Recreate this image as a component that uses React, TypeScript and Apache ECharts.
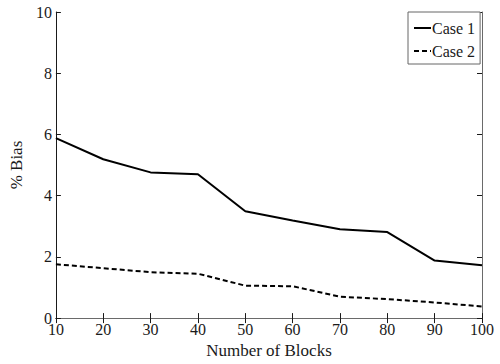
import React, { useEffect, useRef } from "react";
import * as echarts from "echarts";

// Number of blocks on the x axis
const blocks = [10, 20, 30, 40, 50, 60, 70, 80, 90, 100];
// % bias for each case
const case1 = [5.88, 5.19, 4.76, 4.70, 3.49, 3.19, 2.90, 2.81, 1.88, 1.73];
const case2 = [1.76, 1.63, 1.50, 1.45, 1.06, 1.04, 0.70, 0.62, 0.51, 0.38];

const FONT = "Liberation Serif";
const INK = "#1a1a1a";

export default function App() {
  const ref = useRef<HTMLDivElement>(null);

  useEffect(() => {
    if (!ref.current) return;
    const chart = echarts.init(ref.current, null, { renderer: "svg" });

    const frameAxis = (main: boolean) => ({
      axisLine: { show: true, lineStyle: { color: main ? INK : "#6a6a6a", width: 1 } },
      axisTick: { show: true, inside: true, length: 5, lineStyle: { color: INK } },
      splitLine: { show: false },
    });

    chart.setOption({
      animation: false,
      backgroundColor: "#ffffff",
      textStyle: { fontFamily: FONT, color: INK },
      grid: { left: 50, right: 18, top: 12, bottom: 44, containLabel: false },
      legend: {
        orient: "vertical",
        left: 408,
        top: 12,
        padding: [8, 5, 5, 5],
        itemGap: 7,
        itemWidth: 17,
        itemHeight: 14,
        borderColor: "#666",
        borderWidth: 1,
        backgroundColor: "#fff",
        itemStyle: { opacity: 0 },
        textStyle: { fontFamily: FONT, fontSize: 16, color: INK, padding: [0, 0, 0, -4] },
        data: ["Case 1", "Case 2"],
      },
      xAxis: [
        {
          type: "value",
          min: 10,
          max: 100,
          interval: 10,
          position: "bottom",
          name: "Number of Blocks",
          nameLocation: "middle",
          nameGap: 20,
          nameTextStyle: { fontFamily: FONT, fontSize: 17, color: INK },
          axisLabel: { fontFamily: FONT, fontSize: 16, color: INK, margin: 3 },
          ...frameAxis(true),
        },
        {
          type: "value",
          min: 10,
          max: 100,
          interval: 10,
          position: "top",
          axisLabel: { show: false },
          ...frameAxis(false),
        },
      ],
      yAxis: [
        {
          type: "value",
          min: 0,
          max: 10,
          interval: 2,
          position: "left",
          name: "% Bias",
          nameLocation: "middle",
          nameGap: 23,
          nameTextStyle: { fontFamily: FONT, fontSize: 17, color: INK },
          axisLabel: { fontFamily: FONT, fontSize: 16, color: INK, margin: 4 },
          ...frameAxis(true),
        },
        {
          type: "value",
          min: 0,
          max: 10,
          interval: 2,
          position: "right",
          axisLabel: { show: false },
          ...frameAxis(false),
        },
      ],
      series: [
        {
          name: "Case 1",
          type: "line",
          data: blocks.map((b, i) => [b, case1[i]]),
          symbol: "none",
          lineStyle: { color: "#000", width: 2, type: "solid" },
          itemStyle: { color: "#000" },
        },
        {
          name: "Case 2",
          type: "line",
          data: blocks.map((b, i) => [b, case2[i]]),
          symbol: "none",
          lineStyle: { color: "#000", width: 2, type: [5, 3] },
          itemStyle: { color: "#000" },
        },
      ],
    });

    return () => chart.dispose();
  }, []);

  return <div ref={ref} style={{ width: 500, height: 364, position: "absolute", left: 0, top: 0 }} />;
}
